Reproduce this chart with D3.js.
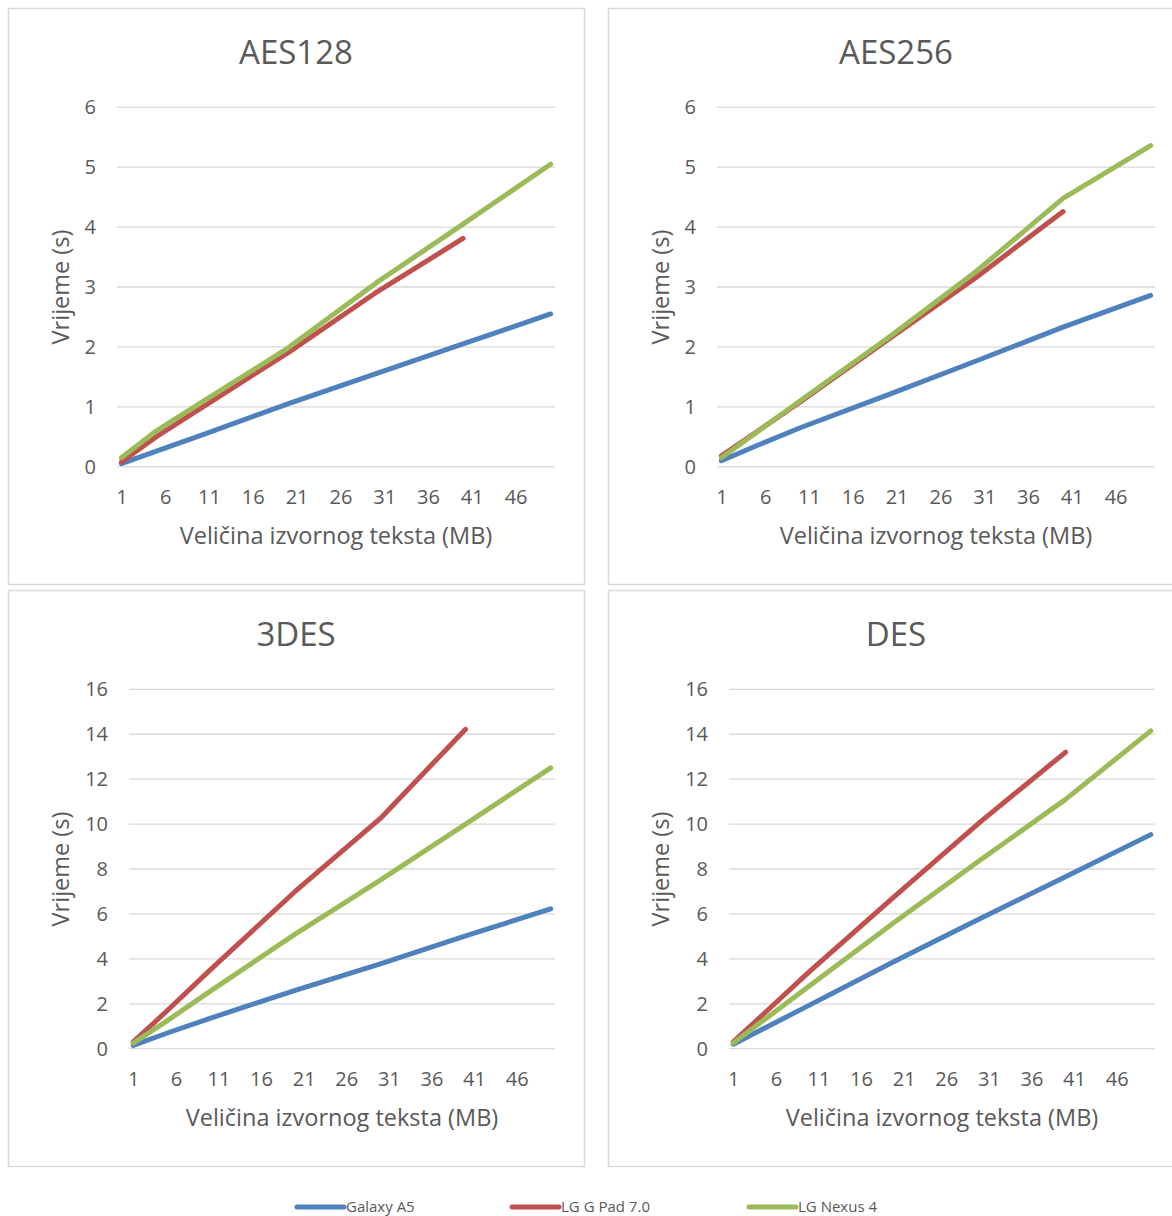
<!DOCTYPE html>
<html>
<head>
<meta charset="utf-8">
<script src="https://cdn.jsdelivr.net/npm/d3@7"></script>
<style>
  body { margin: 0; background: #fff; }
  text { font-family: "Open Sans", sans-serif; fill: #595959; }
</style>
</head>
<body>
<div id="my_dataviz"></div>
<script>

// file sizes (MB) that were measured
var sizes = [1, 5, 10, 20, 30, 40, 50];
var xTicks = [1, 6, 11, 16, 21, 26, 31, 36, 41, 46];
var devices = ["Galaxy A5", "LG G Pad 7.0", "LG Nexus 4"];
var colors = ["#4f81bd", "#c0504d", "#9bbb59"];

// times in seconds, one array per device and algorithm
var aes128Galaxy = [0.05, 0.26, 0.52, 1.05, 1.55, 2.05, 2.55];
var aes128Pad    = [0.08, 0.50, 0.97, 1.90, 2.90, 3.81];
var aes128Nexus  = [0.15, 0.60, 1.06, 1.98, 3.06, 4.05, 5.05];

var aes256Galaxy = [0.10, 0.35, 0.65, 1.20, 1.76, 2.33, 2.86];
var aes256Pad    = [0.18, 0.58, 1.08, 2.12, 3.15, 4.26];
var aes256Nexus  = [0.15, 0.57, 1.10, 2.15, 3.25, 4.48, 5.36];

var des3Galaxy = [0.15, 0.70, 1.35, 2.60, 3.78, 5.02, 6.23];
var des3Pad    = [0.30, 1.70, 3.50, 7.00, 10.25, 14.22];
var des3Nexus  = [0.25, 1.25, 2.55, 5.10, 7.50, 10.00, 12.50];

var desGalaxy = [0.20, 0.98, 1.95, 3.90, 5.80, 7.65, 9.53];
var desPad    = [0.30, 1.70, 3.45, 6.80, 10.10, 13.20];
var desNexus  = [0.25, 1.39, 2.81, 5.65, 8.40, 11.10, 14.15];

var yTicksAes = [0, 1, 2, 3, 4, 5, 6];
var yTicksDes = [0, 2, 4, 6, 8, 10, 12, 14, 16];

var charts = [
  {title: "AES128", x: 8, y: 8, yMax: 6, ticks: yTicksAes, left: 109, data: [aes128Galaxy, aes128Pad, aes128Nexus]},
  {title: "AES256", x: 608, y: 8, yMax: 6, ticks: yTicksAes, left: 109, data: [aes256Galaxy, aes256Pad, aes256Nexus]},
  {title: "3DES", x: 8, y: 590, yMax: 16, ticks: yTicksDes, left: 121, data: [des3Galaxy, des3Pad, des3Nexus]},
  {title: "DES", x: 608, y: 590, yMax: 16, ticks: yTicksDes, left: 121, data: [desGalaxy, desPad, desNexus]}
];

var W = 1172, H = 1216;
var boxW = 576, boxH = 576;

var svg = d3.select("#my_dataviz")
  .append("svg")
    .attr("width", W)
    .attr("height", H);

charts.forEach(function(c) {
  var g = svg.append("g")
    .attr("transform", "translate(" + c.x + "," + c.y + ")");

  g.append("rect")
    .attr("x", 0.5).attr("y", 0.5)
    .attr("width", boxW).attr("height", boxH)
    .attr("fill", "#fff")
    .attr("stroke", "#d9d9d9")
    .attr("stroke-width", 1.5);

  var top = 99.3, bottom = 458.7, right = 547;

  var x = d3.scaleLinear().domain([0.5, 50.5]).range([c.left, right]);
  var y = d3.scaleLinear().domain([0, c.yMax]).range([bottom, top]);

  // gridlines
  g.append("g")
    .selectAll("line")
    .data(c.ticks)
    .enter()
    .append("line")
      .attr("x1", c.left).attr("x2", right)
      .attr("y1", function(d) { return y(d); })
      .attr("y2", function(d) { return y(d); })
      .attr("stroke", "#d9d9d9")
      .attr("stroke-width", 1.3);

  // y tick labels
  var yAxis = g.append("g")
    .attr("transform", "translate(" + (c.left - 21) + ",0)")
    .call(d3.axisLeft(y).tickValues(c.ticks).tickFormat(d3.format("d")).tickSize(0).tickPadding(0));
  yAxis.select(".domain").remove();
  yAxis.selectAll("text")
    .style("font-family", "'Open Sans', sans-serif")
    .style("font-size", "20px")
    .attr("fill", "#595959");

  // x tick labels
  var xAxis = g.append("g")
    .attr("transform", "translate(0," + (bottom + 23) + ")")
    .call(d3.axisBottom(x).tickValues(xTicks).tickSize(0).tickPadding(0));
  xAxis.select(".domain").remove();
  xAxis.selectAll("text")
    .style("font-family", "'Open Sans', sans-serif")
    .style("font-size", "20px")
    .attr("fill", "#595959");

  // title
  g.append("text")
    .attr("x", 288).attr("y", 56)
    .attr("text-anchor", "middle")
    .style("font-size", "33px")
    .text(c.title);

  // axis titles
  g.append("text")
    .attr("x", (c.left + right) / 2).attr("y", 536)
    .attr("text-anchor", "middle")
    .style("font-size", "23.5px")
    .text("Veličina izvornog teksta (MB)");

  g.append("text")
    .attr("transform", "translate(61," + ((top + bottom) / 2) + ") rotate(-90)")
    .attr("text-anchor", "middle")
    .style("font-size", "23.5px")
    .text("Vrijeme (s)");

  var line = d3.line()
    .x(function(d) { return x(d[0]); })
    .y(function(d) { return y(d[1]); });

  c.data.forEach(function(vals, i) {
    var pts = vals.map(function(v, j) { return [sizes[j], v]; });
    g.append("path")
      .datum(pts)
      .attr("d", line)
      .attr("fill", "none")
      .attr("stroke", colors[i])
      .attr("stroke-width", 5)
      .attr("stroke-linecap", "round")
      .attr("stroke-linejoin", "round");
  });
});

// legend
var legendX = [297, 512, 749];
var legend = svg.append("g");
devices.forEach(function(name, i) {
  legend.append("line")
    .attr("x1", legendX[i]).attr("x2", legendX[i] + 47)
    .attr("y1", 1207).attr("y2", 1207)
    .attr("stroke", colors[i])
    .attr("stroke-width", 5)
    .attr("stroke-linecap", "round");
  legend.append("text")
    .attr("x", legendX[i] + 49).attr("y", 1212)
    .style("font-size", "15px")
    .text(name);
});

</script>
</body>
</html>
